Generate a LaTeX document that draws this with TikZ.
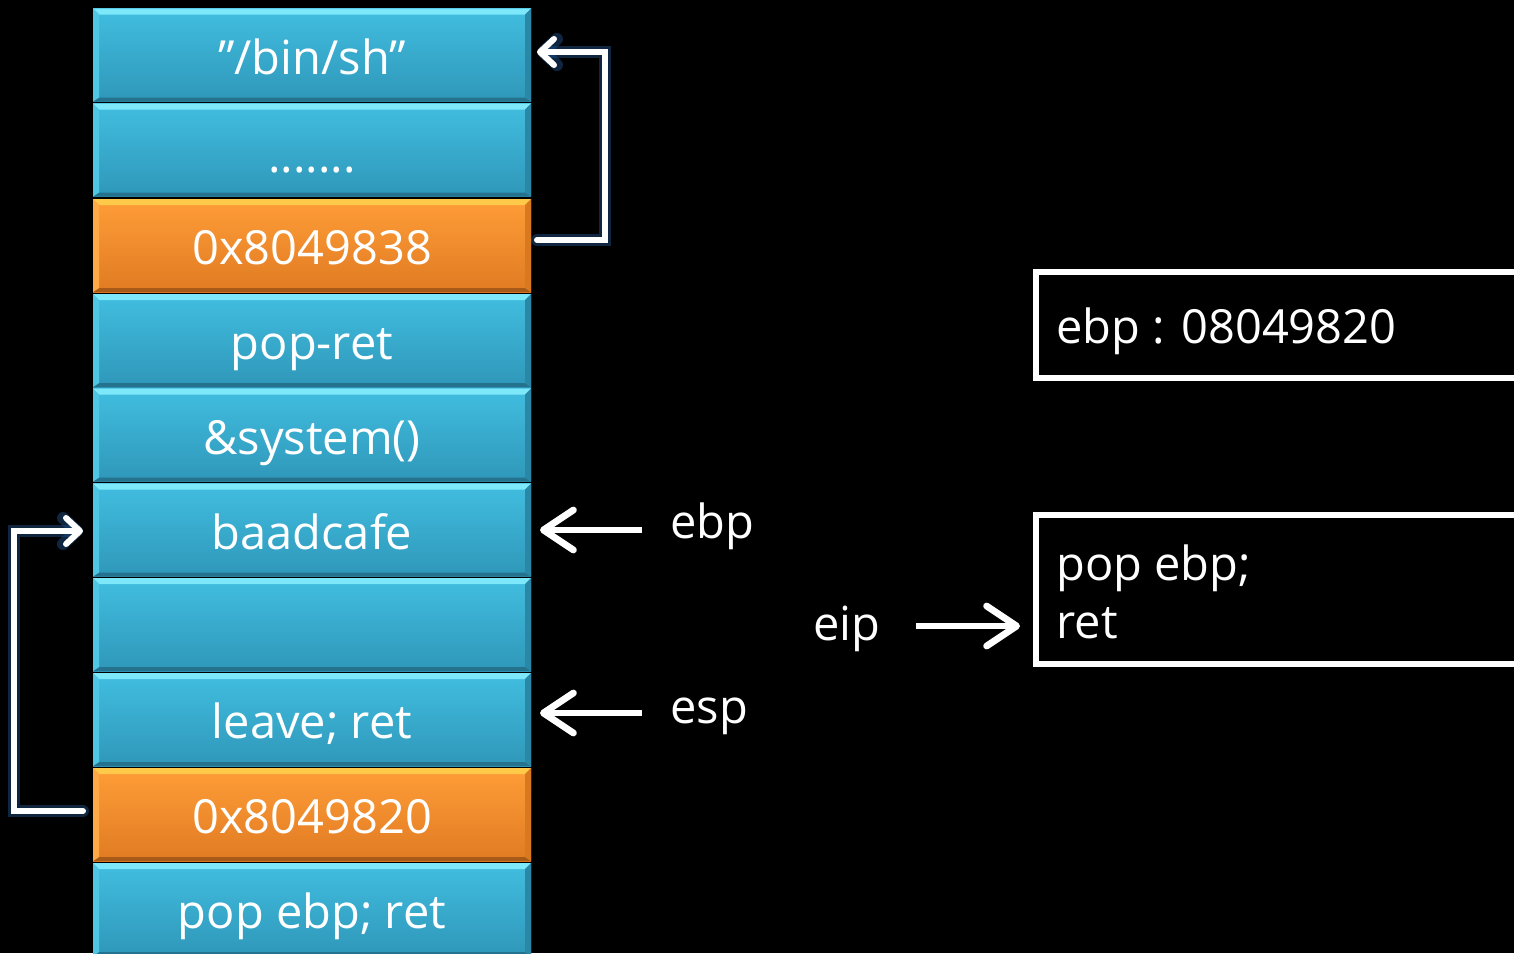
\documentclass[tikz,border=0pt]{standalone}
\usepackage{fontspec}
\setmainfont{Open Sans}
\usetikzlibrary{arrows.meta}

\definecolor{bluetop}{HTML}{41BEE0}
\definecolor{bluebot}{HTML}{2F97B9}
\definecolor{bluehi}{HTML}{7DE8FA}
\definecolor{bluelo}{HTML}{25728E}
\definecolor{blueside}{HTML}{4FC6E4}
\definecolor{bluerside}{HTML}{2B87A6}
\definecolor{orangetop}{HTML}{FF9D38}
\definecolor{orangebot}{HTML}{E07B22}
\definecolor{orangehi}{HTML}{FFC94A}
\definecolor{orangelo}{HTML}{A85A18}
\definecolor{orangeside}{HTML}{FFA846}
\definecolor{orangerside}{HTML}{D8781F}
\definecolor{glow}{HTML}{1E4A80}

\tikzset{
  cellbase/.style={minimum width=219pt, minimum height=46.5pt, inner sep=0pt,
    text height=20.5pt, text depth=1.5pt,
    text=white, font=\fontsize{23.5}{28}\selectfont},
  bevel/.style n args={4}{path picture={
    \coordinate (nw) at (path picture bounding box.north west);
    \coordinate (ne) at (path picture bounding box.north east);
    \coordinate (sw) at (path picture bounding box.south west);
    \coordinate (se) at (path picture bounding box.south east);
    \fill[#1] (nw) -- (ne) -- ([shift={(-3pt,-3pt)}]ne) -- ([shift={(3pt,-3pt)}]nw) -- cycle;
    \fill[#2] (sw) -- (se) -- ([shift={(-3pt,2pt)}]se) -- ([shift={(3pt,2pt)}]sw) -- cycle;
    \fill[#3] (nw) -- ([shift={(3pt,-3pt)}]nw) -- ([shift={(3pt,2pt)}]sw) -- (sw) -- cycle;
    \fill[#4] (ne) -- ([shift={(-3pt,-3pt)}]ne) -- ([shift={(-3pt,2pt)}]se) -- (se) -- cycle;
  }},
  bluecell/.style={cellbase, top color=bluetop, bottom color=bluebot,
    bevel={bluehi}{bluelo}{blueside}{bluerside}},
  orangecell/.style={cellbase, top color=orangetop, bottom color=orangebot,
    bevel={orangehi}{orangelo}{orangeside}{orangerside}},
  jumpglow/.style={draw=glow, line width=6pt, line cap=round, line join=miter,
    opacity=0.5, -{Straight Barb[length=7pt, width=13pt, line width=6pt, round]}},
  jump/.style={draw=white, line width=3pt, line cap=round, line join=miter,
    -{Straight Barb[length=7pt, width=13pt, line width=3pt, round]}},
  pointer/.style={draw=white, line width=3.4pt,
    -{Straight Barb[length=15pt, width=20pt, line width=3.4pt, round]}},
  label/.style={text=white, font=\fontsize{23.5}{28}\selectfont, inner sep=0pt},
  regbox/.style={draw=white, line width=3pt, inner sep=0pt}
}

\begin{document}
\begin{tikzpicture}[x=0.5pt, y=-0.5pt]
  \fill[black] (0,0) rectangle (1514,953);
  \useasboundingbox (0,0) rectangle (1514,953);

  % stack, from the top down
  \node[bluecell]   (binsh)  at (312,55)    {”/bin/sh”};
  \node[bluecell]   (dots)   at (312,150)   {\raisebox{-1.5pt}{.......}};
  \node[orangecell] (addr1)  at (312,245.5) {0x8049838};
  \node[bluecell]   (popret) at (312,340.5) {pop-ret};
  \node[bluecell]   (system) at (312,435)   {\&system()};
  \node[bluecell]   (cafe)   at (312,530)   {baadcafe};
  \node[bluecell]   (empty)  at (312,624.5) {};
  \node[bluecell]   (leave)  at (312,719.5) {leave; ret};
  \node[orangecell] (addr2)  at (312,814.5) {0x8049820};
  \node[bluecell]   (popebp) at (312,909.5) {pop ebp; ret};

  % saved frame pointers chaining back up the stack
  \coordinate (j1a) at (537,240);
  \coordinate (j1b) at (537,52);
  \coordinate (j2a) at (83,811);
  \coordinate (j2b) at (83,531);
  \draw[jumpglow] (j1a) -- (605,240) -- (605,52) -- (j1b);
  \draw[jumpglow] (j2a) -- (14,811) -- (14,531) -- (j2b);
  \draw[jump] (j1a) -- (605,240) -- (605,52) -- (j1b);
  \draw[jump] (j2a) -- (14,811) -- (14,531) -- (j2b);

  % register pointers
  \node[label, anchor=west] (ebp) at (670,526) {ebp};
  \node[label, anchor=west] (esp) at (670,716) {esp};
  \node[label, anchor=west] (eip) at (813,629) {eip};
  \coordinate (ebpend) at (540,530);
  \coordinate (espend) at (540,713);
  \draw[pointer] (642,530) -- (ebpend);
  \draw[pointer] (642,713) -- (espend);

  % register state and current instructions
  \draw[regbox] (1540,272) -- (1036,272) -- (1036,378) -- (1540,378);
  \node[label, anchor=west] (ebpval) at (1056,331) {ebp : 08049820};
  \draw[regbox] (1540,515) -- (1036,515) -- (1036,664) -- (1540,664);
  \coordinate (code) at (1020,626);
  \node[label, anchor=west] (line1) at (1056,568) {pop ebp;};
  \node[label, anchor=west] (line2) at (1056,623) {ret};
  \draw[pointer] (916,626) -- (code);
\end{tikzpicture}
\end{document}
